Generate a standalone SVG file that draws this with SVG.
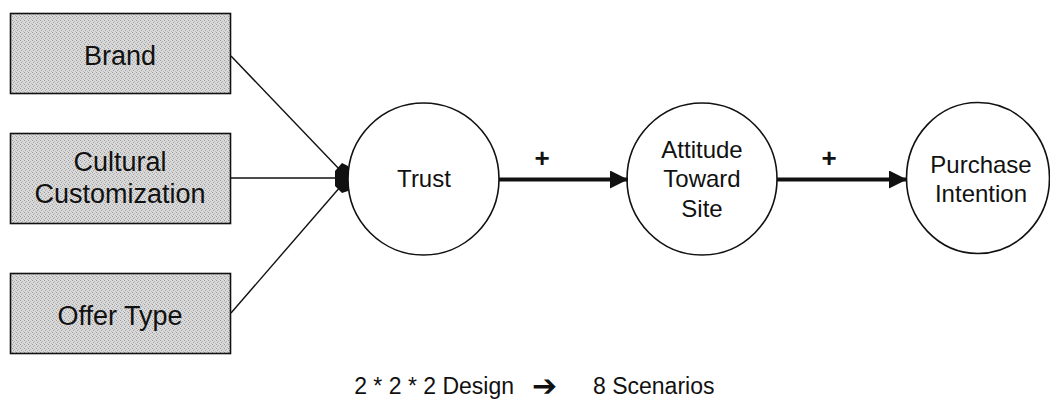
<svg xmlns="http://www.w3.org/2000/svg" width="1050" height="411" viewBox="0 0 1050 411">
  <defs>
    <style>
      .box { fill: url(#stipple); stroke: #111; stroke-width: 1.6; }
      .node { fill: #fff; stroke: #111; stroke-width: 1.6; }
      .lbl { font-family: "Liberation Sans", Arial, sans-serif; fill: #111; text-anchor: middle; }
      .boxlbl { font-size: 27px; }
      .circlbl { font-size: 24px; }
      .cap { font-family: "Liberation Sans", Arial, sans-serif; font-size: 23px; fill: #111; }
      .thin { stroke: #111; stroke-width: 1.4; fill: none; }
      .thick { stroke: #111; stroke-width: 4; fill: none; }
      .plus { font-family: "Liberation Sans", Arial, sans-serif; font-size: 26px; font-weight: bold; fill: #111; text-anchor: middle; }
    </style>
    <!-- light grey dithered fill for the factor boxes -->
    <pattern id="stipple" width="4" height="4" patternUnits="userSpaceOnUse">
      <rect width="4" height="4" fill="#dadada"/>
      <rect x="0" y="0" width="1" height="1" fill="#9a9a9a"/>
      <rect x="2" y="1" width="1" height="1" fill="#b0b0b0"/>
      <rect x="1" y="2" width="1" height="1" fill="#a4a4a4"/>
      <rect x="3" y="3" width="1" height="1" fill="#b8b8b8"/>
    </pattern>
    <marker id="head" viewBox="0 0 18 18" refX="18" refY="9" markerWidth="18" markerHeight="18" markerUnits="userSpaceOnUse" orient="auto">
      <path d="M0,0 L18,9 L0,18 Z" fill="#111"/>
    </marker>
  </defs>

  <rect width="1050" height="411" fill="#fff"/>

  <!-- input factors -->
  <g id="brand">
    <rect class="box" x="10.5" y="13.5" width="220" height="80"/>
    <text class="lbl boxlbl" x="120" y="65">Brand</text>
  </g>
  <g id="cultural-customization">
    <rect class="box" x="10.5" y="133.5" width="220" height="90"/>
    <text class="lbl boxlbl" x="120" y="171">Cultural</text>
    <text class="lbl boxlbl" x="120" y="203">Customization</text>
  </g>
  <g id="offer-type">
    <rect class="box" x="10.5" y="273.5" width="220" height="80"/>
    <text class="lbl boxlbl" x="120" y="325">Offer Type</text>
  </g>

  <!-- constructs -->
  <g id="trust">
    <ellipse class="node" cx="423.5" cy="179" rx="75.5" ry="76"/>
    <text class="lbl circlbl" x="424" y="187">Trust</text>
  </g>
  <g id="attitude-toward-site">
    <ellipse class="node" cx="702" cy="179" rx="75" ry="76"/>
    <text class="lbl circlbl" x="702" y="158">Attitude</text>
    <text class="lbl circlbl" x="702" y="187">Toward</text>
    <text class="lbl circlbl" x="702" y="217">Site</text>
  </g>
  <g id="purchase-intention">
    <ellipse class="node" cx="978" cy="178" rx="71.5" ry="75.5"/>
    <text class="lbl circlbl" x="981" y="173">Purchase</text>
    <text class="lbl circlbl" x="981" y="202">Intention</text>
  </g>

  <!-- connectors -->
  <g id="connectors">
    <line class="thin" x1="231" y1="56" x2="341" y2="171"/>
    <line class="thin" x1="231" y1="178" x2="337" y2="178"/>
    <line class="thin" x1="231" y1="313" x2="341" y2="186"/>
    <!-- merged arrowheads of the three factor lines -->
    <path d="M335,171 L342,163 L348,166 L348,191 L342,193 L335,186 Z" fill="#111"/>

    <line class="thick" x1="499" y1="179.5" x2="628" y2="179.5" marker-end="url(#head)"/>
    <text class="plus" x="542" y="167">+</text>
    <line class="thick" x1="777" y1="179.5" x2="907" y2="179.5" marker-end="url(#head)"/>
    <text class="plus" x="829" y="167">+</text>
  </g>

  <!-- design caption -->
  <g id="caption">
    <text class="cap" text-anchor="end" x="514" y="394">2 * 2 * 2 Design</text>
    <text style="font-family:'DejaVu Sans', sans-serif; font-size:30px; font-weight:bold; fill:#111" x="532" y="396">➔</text>
    <text class="cap" x="593" y="394">8 Scenarios</text>
  </g>
</svg>
